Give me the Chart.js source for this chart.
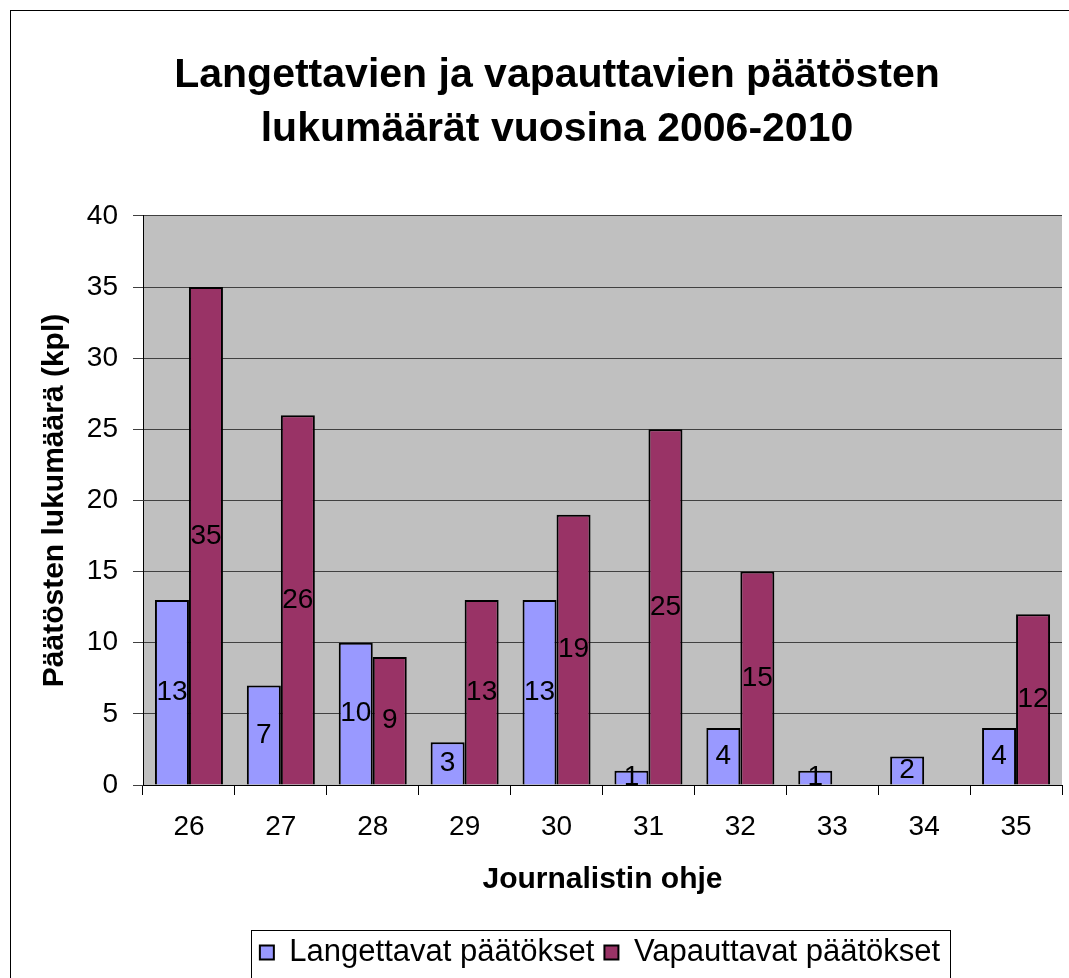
<!DOCTYPE html>
<html>
<head>
<meta charset="utf-8">
<script src="https://cdn.jsdelivr.net/npm/chart.js@4.4.0/dist/chart.umd.min.js"></script>
<style>
  html, body { margin: 0; padding: 0; background: #ffffff; }
  #wrap { width: 1069px; height: 978px; }
</style>
</head>
<body>
<div id="wrap"><canvas id="paatokset" width="1069" height="978"></canvas></div>
<script>
// data
const ohjeet = ['26', '27', '28', '29', '30', '31', '32', '33', '34', '35'];
const langettavat = [13, 7, 10, 3, 13, 1, 4, 1, 2, 4];
const vapauttavat = [35, 26, 9, 13, 19, 25, 15, 0, 0, 12];
const titleLines = ['Langettavien ja vapauttavien päätösten', 'lukumäärät vuosina 2006-2010'];

const FONT = '"Liberation Sans", Arial, sans-serif';

// gray plot area + outer frame + legend box
const frame = {
    id: 'frame',
    beforeDraw(chart) {
        const { ctx, chartArea: a } = chart;
        ctx.save();
        ctx.fillStyle = '#ffffff';
        ctx.fillRect(0, 0, chart.width, chart.height);
        ctx.fillStyle = '#c0c0c0';
        ctx.fillRect(a.left, a.top, a.right - a.left, a.bottom - a.top);
        ctx.strokeStyle = '#000000';
        ctx.lineWidth = 1;
        ctx.strokeRect(10.5, 10.5, chart.width + 20, chart.height + 20);
        ctx.restore();
    },
    afterLayout(chart) {
        // Excel centred title and legend a bit to the right
        chart.titleBlock.left += 26;
        chart.titleBlock.right += 26;
        chart.legend.left += 69;
        chart.legend.right += 69;
    },
    afterDraw(chart) {
        const lg = chart.legend;
        const hb = lg.legendHitBoxes;
        if (!hb || !hb.length) return;
        const ctx = chart.ctx;
        const last = hb[hb.length - 1];
        const x0 = Math.round(hb[0].left - 9) + 0.5;
        const x1 = Math.round(last.left + last.width + 10) + 0.5;
        ctx.save();
        ctx.strokeStyle = '#000000';
        ctx.lineWidth = 1;
        ctx.strokeRect(x0, Math.round(lg.top) + 3.5, x1 - x0, 200);
        ctx.restore();
    }
};

// value labels in the middle of the bars
const barValues = {
    id: 'barValues',
    afterDatasetsDraw(chart) {
        const ctx = chart.ctx;
        ctx.save();
        ctx.font = '28px ' + FONT;
        ctx.fillStyle = '#000000';
        ctx.textAlign = 'center';
        ctx.textBaseline = 'middle';
        chart.data.datasets.forEach((ds, i) => {
            chart.getDatasetMeta(i).data.forEach((bar, j) => {
                const v = ds.data[j];
                if (!v) return;
                ctx.fillText(String(v), bar.x, (bar.y + bar.base) / 2);
            });
        });
        ctx.restore();
    }
};

new Chart(document.getElementById('paatokset').getContext('2d'), {
    type: 'bar',
    data: {
        labels: ohjeet,
        datasets: [{
            label: 'Langettavat päätökset',
            data: langettavat,
            backgroundColor: '#9999ff',
            borderColor: '#000000',
            borderWidth: 2
        }, {
            label: 'Vapauttavat päätökset',
            data: vapauttavat,
            backgroundColor: '#993366',
            borderColor: '#000000',
            borderWidth: 2
        }]
    },
    options: {
        responsive: false,
        animation: false,
        devicePixelRatio: 1,
        layout: { padding: { top: 0, right: 7, bottom: 0, left: 0 } },
        datasets: { bar: { categoryPercentage: 0.74, barPercentage: 1 } },
        scales: {
            x: {
                grid: { drawOnChartArea: false, tickLength: 10, color: '#000000', offset: true },
                border: { color: '#000000', width: 1 },
                ticks: { color: '#000000', font: { family: FONT, size: 28 }, padding: 15 },
                title: {
                    display: true,
                    text: 'Journalistin ohje',
                    color: '#000000',
                    font: { family: FONT, size: 30, weight: 'bold' },
                    padding: { top: 29, bottom: 29 }
                },
                afterFit(scale) { scale.height = 142; }
            },
            y: {
                min: 0,
                max: 40,
                ticks: { stepSize: 5, color: '#000000', font: { family: FONT, size: 28 }, padding: 15 },
                grid: { color: '#404040', tickLength: 10 },
                border: { color: '#000000', width: 1 },
                title: {
                    display: true,
                    text: 'Päätösten lukumäärä (kpl)',
                    color: '#000000',
                    font: { family: FONT, size: 30, weight: 'bold' },
                    padding: { top: 37, bottom: 37 }
                },
                afterFit(scale) { scale.width = 143; }
            }
        },
        plugins: {
            title: {
                display: true,
                text: titleLines,
                color: '#000000',
                font: { family: FONT, size: 41, weight: 'bold', lineHeight: 1.317 },
                padding: { top: 49, bottom: 59 }
            },
            legend: {
                position: 'bottom',
                labels: {
                    color: '#000000',
                    font: { family: FONT, size: 31 },
                    boxWidth: 14,
                    boxHeight: 14,
                    padding: 10
                }
            },
            tooltip: { enabled: false }
        }
    },
    plugins: [frame, barValues]
});
</script>
</body>
</html>
